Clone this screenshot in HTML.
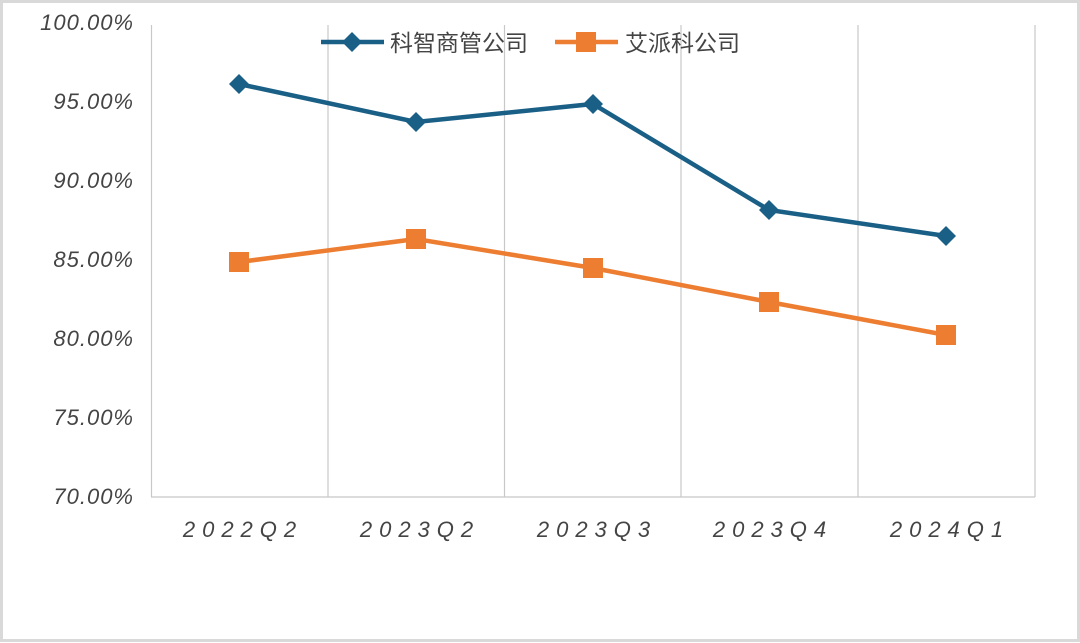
<!DOCTYPE html>
<html><head><meta charset="utf-8"><style>
html,body{margin:0;padding:0;background:#fff;}
svg{display:block;}
text{font-family:"Liberation Sans","Noto Sans CJK SC",sans-serif;}
</style></head><body>
<svg width="1080" height="643" viewBox="0 0 1080 643" xmlns="http://www.w3.org/2000/svg">
<rect x="1.5" y="1.5" width="1077" height="639" fill="#fff" stroke="#d9d9d9" stroke-width="3"/>
<g stroke="#c8c8c8" stroke-width="1.2">
<line x1="151.5" y1="25" x2="151.5" y2="497"/>
<line x1="328" y1="25" x2="328" y2="497"/>
<line x1="504.5" y1="25" x2="504.5" y2="497"/>
<line x1="681" y1="25" x2="681" y2="497"/>
<line x1="858" y1="25" x2="858" y2="497"/>
<line x1="1035" y1="25" x2="1035" y2="497"/>
<line x1="151" y1="497" x2="1035" y2="497"/>
</g>
<g fill="#444" font-size="22" font-style="italic" text-anchor="end" letter-spacing="1">
<text x="134" y="30">100.00%</text>
<text x="134" y="109">95.00%</text>
<text x="134" y="188">90.00%</text>
<text x="134" y="267">85.00%</text>
<text x="134" y="346">80.00%</text>
<text x="134" y="425">75.00%</text>
<text x="134" y="504">70.00%</text>
</g>
<g fill="#444" font-size="22" font-style="italic" text-anchor="middle" letter-spacing="7">
<text x="243" y="537">2022Q2</text>
<text x="420" y="537">2023Q2</text>
<text x="597" y="537">2023Q3</text>
<text x="773" y="537">2023Q4</text>
<text x="950" y="537">2024Q1</text>
</g>
<polyline points="239,84 416,122 593,104 769,210 946,236" fill="none" stroke="#1a5f86" stroke-width="4.5"/>
<polyline points="239,262 416,239 593,268 769,302 946,335" fill="none" stroke="#ed7d31" stroke-width="4.5"/>
<g fill="#1a5f86">
<polygon points="239,74 249,84 239,94 229,84"/>
<polygon points="416,112 426,122 416,132 406,122"/>
<polygon points="593,94 603,104 593,114 583,104"/>
<polygon points="769,200 779,210 769,220 759,210"/>
<polygon points="946,226 956,236 946,246 936,236"/>
</g>
<g fill="#ed7d31">
<rect x="229" y="252" width="20" height="20"/>
<rect x="406" y="229" width="20" height="20"/>
<rect x="583" y="258" width="20" height="20"/>
<rect x="759" y="292" width="20" height="20"/>
<rect x="936" y="325" width="20" height="20"/>
</g>
<line x1="321" y1="42" x2="384" y2="42" stroke="#1a5f86" stroke-width="4.5"/>
<polygon points="352,32 362,42 352,52 342,42" fill="#1a5f86"/>
<text x="390" y="51" font-size="23" fill="#444">科智商管公司</text>
<line x1="555" y1="42" x2="618" y2="42" stroke="#ed7d31" stroke-width="4.5"/>
<rect x="576" y="32" width="20" height="20" fill="#ed7d31"/>
<text x="625" y="51" font-size="23" fill="#444">艾派科公司</text>
</svg>
</body></html>
